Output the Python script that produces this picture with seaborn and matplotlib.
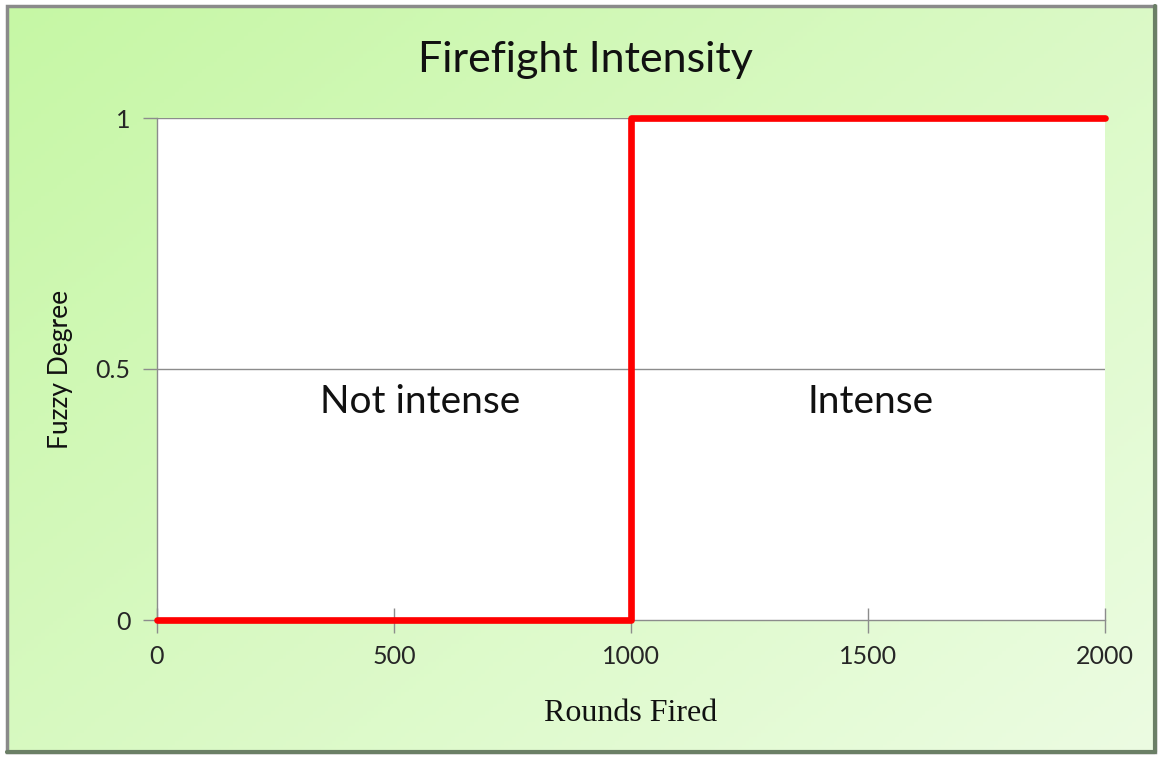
import numpy as np
import pandas as pd
import matplotlib.pyplot as plt
import seaborn as sns
from matplotlib.patches import Rectangle

# membership function points (step at 1000 rounds)
rounds_fired = [0, 1000, 1000, 2000]
fuzzy_degree = [0, 0, 1, 1]
x_ticks = [0, 500, 1000, 1500, 2000]
y_ticks = [0, 0.5, 1]
y_tick_labels = ['0', '0.5', '1']
region_labels = ['Not intense', 'Intense']
region_x = [555, 1506]
region_y = [0.435, 0.435]

df = pd.DataFrame({'Rounds Fired': rounds_fired, 'Fuzzy Degree': fuzzy_degree})

sns.set_theme(style="white")
plt.rcParams['font.family'] = ['Lato', 'DejaVu Sans']

fig = plt.figure(figsize=(11.6, 7.58), dpi=100)
fig.patch.set_facecolor('white')

# green gradient background with a grey frame
bg = fig.add_axes([7 / 1160, 6 / 758, 1148 / 1160, 746 / 758], zorder=-5)
gx, gy = np.meshgrid(np.linspace(0, 1, 300), np.linspace(0, 1, 200))
t = np.clip(0.55 * gx + 0.45 * gy, 0, 1)
c0 = np.array([198, 247, 165]) / 255
c1 = np.array([236, 252, 226]) / 255
img = c0[None, None, :] * (1 - t[..., None]) + c1[None, None, :] * t[..., None]
bg.imshow(img, aspect='auto', extent=[0, 1, 0, 1], origin='upper')
bg.set_xlim(0, 1)
bg.set_ylim(0, 1)
bg.axis('off')
bg.add_patch(Rectangle((0, 0), 1, 1, transform=bg.transAxes, fill=False,
                       edgecolor='#8a8a8a', linewidth=2.5, clip_on=False))
bg.plot([1, 1], [0, 1], transform=bg.transAxes, color='#6b7f66', linewidth=3, clip_on=False)
bg.plot([0, 1], [0, 0], transform=bg.transAxes, color='#6b7f66', linewidth=3, clip_on=False)

ax = fig.add_axes([157 / 1160, 1 - 620 / 758, 948 / 1160, 502 / 758])
ax.set_facecolor('white')

sns.lineplot(data=df, x='Rounds Fired', y='Fuzzy Degree', sort=False, estimator=None,
             color='#ff0000', linewidth=4.8, ax=ax, zorder=5, clip_on=False)

ax.set_xlim(0, 2000)
ax.set_ylim(0, 1)
ax.set_xticks(x_ticks)
ax.set_yticks(y_ticks)
ax.set_yticklabels(y_tick_labels)

for y in y_ticks[1:]:
    ax.axhline(y, color='#8c8c8c', linewidth=1, zorder=1)

for s in ['top', 'right']:
    ax.spines[s].set_visible(False)
for s in ['left', 'bottom']:
    ax.spines[s].set_color('#8c8c8c')
    ax.spines[s].set_linewidth(1)

ax.tick_params(axis='x', direction='inout', length=18, width=1, color='#8c8c8c',
               labelsize=18, pad=9, bottom=True)
ax.tick_params(axis='y', direction='out', length=10, width=1, color='#8c8c8c',
               labelsize=18, pad=9, left=True)

ax.set_xlabel('Rounds Fired', family=['Liberation Serif', 'DejaVu Serif'],
              fontsize=23, labelpad=22, color='#111111')
ax.set_ylabel('Fuzzy Degree', fontsize=19, labelpad=16, color='#111111')

for lab, x, y in zip(region_labels, region_x, region_y):
    ax.text(x, y, lab, fontsize=28, ha='center', va='center', color='#111111')

fig.text(585 / 1160, 1 - 60 / 758, 'Firefight Intensity', fontsize=31,
         ha='center', va='center', color='#111111')

fig.savefig('out.png', dpi=100)
